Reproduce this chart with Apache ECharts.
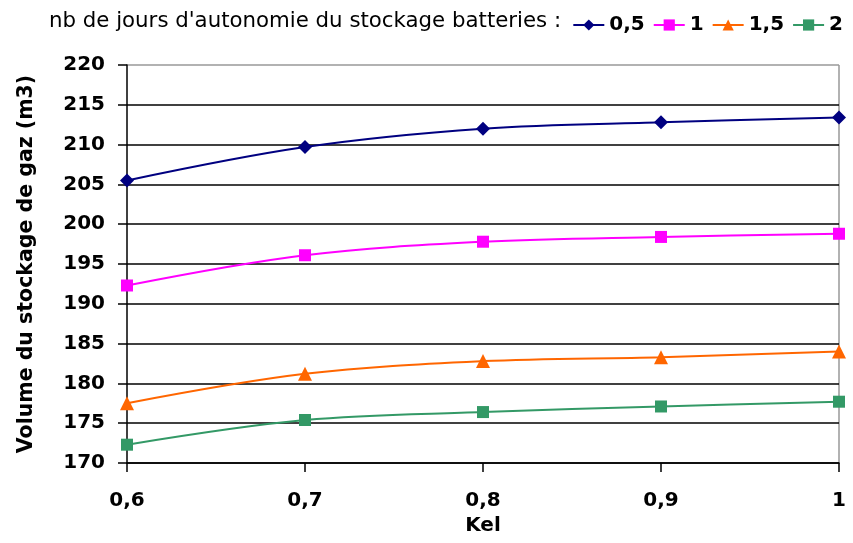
<!DOCTYPE html>
<html><head><meta charset="utf-8">
<script src="https://cdn.jsdelivr.net/npm/echarts@6/dist/echarts.min.js"></script>
<style>html,body{margin:0;padding:0;background:#fff}#c{width:853px;height:543px}</style>
</head><body><div id="c"></div>
<script>
var categories = ['0,6','0,7','0,8','0,9','1'];
var seriesNames = ['0,5','1','1,5','2'];
var s05 = [205.5, 209.7, 212.0, 212.8, 213.4];
var s1  = [192.3, 196.1, 197.8, 198.4, 198.8];
var s15 = [177.5, 181.2, 182.8, 183.3, 184.0];
var s2  = [172.3, 175.4, 176.4, 177.1, 177.7];
var yTicks = [170,175,180,185,190,195,200,205,210,215,220];

var colors = ['#000080','#FF00FF','#FF6600','#339966'];
var symbols = ['diamond','rect','triangle','rect'];
var sizes = [14,12,14,12];
var data = [s05,s1,s15,s2];
var font = '"DejaVu Sans", sans-serif';

var chart = echarts.init(document.getElementById('c'), null, {renderer:'canvas'});
var gridColors = yTicks.map(function(v,i){return i===yTicks.length-1 ? '#999' : '#000';});
chart.setOption({
  animation:false,
  backgroundColor:'#fff',
  graphic:[{
    type:'text', x:49, y:21,
    style:{text:"nb de jours d'autonomie du stockage batteries :", fill:'#000', font:'21.3px "DejaVu Sans", sans-serif', verticalAlign:'middle'}
  },{
    type:'line', shape:{x1:839,y1:65,x2:839,y2:463}, style:{stroke:'#999',lineWidth:1.5}
  }],
  legend:{
    top:10, right:5, itemWidth:31, itemHeight:14, itemGap:8,
    textStyle:{fontFamily:font, fontWeight:'bold', fontSize:20, color:'#000'},
    data:seriesNames
  },
  grid:{left:127, right:14, top:65, bottom:80},
  xAxis:{
    type:'category', data:categories, boundaryGap:false,
    name:'Kel', nameLocation:'middle', nameGap:47,
    nameTextStyle:{fontFamily:font, fontWeight:'bold', fontSize:20, color:'#000'},
    axisLine:{lineStyle:{color:'#000', width:1.5}},
    axisTick:{show:true, length:9, lineStyle:{color:'#000', width:1.5}},
    axisLabel:{fontFamily:font, fontWeight:'bold', fontSize:20, color:'#000', margin:28},
    splitLine:{show:false}
  },
  yAxis:{
    type:'value', min:170, max:220, interval:5,
    name:'Volume du stockage de gaz (m3)', nameLocation:'middle', nameGap:90, nameRotate:90,
    nameTextStyle:{fontFamily:font, fontWeight:'bold', fontSize:20.5, color:'#000'},
    axisLine:{show:true, lineStyle:{color:'#000', width:1.5}},
    axisTick:{show:true, length:9, lineStyle:{color:'#000', width:1.5}},
    axisLabel:{fontFamily:font, fontWeight:'bold', fontSize:20, color:'#000', margin:22},
    splitLine:{show:true, lineStyle:{color:gridColors, width:1.5}}
  },
  series: seriesNames.map(function(n,i){
    return {
      name:n, type:'line', data:data[i], smooth:0.35,
      symbol:symbols[i], symbolSize:sizes[i],
      lineStyle:{color:colors[i], width:2},
      itemStyle:{color:colors[i]}
    };
  })
});
</script></body></html>
